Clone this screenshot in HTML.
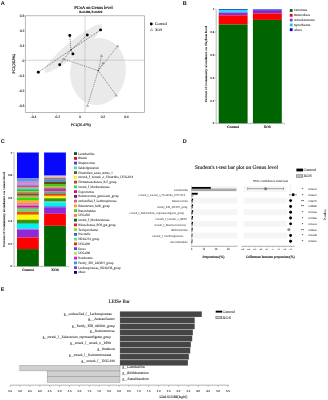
<!DOCTYPE html>
<html><head><meta charset="utf-8"><style>
html,body{margin:0;padding:0;background:#fff;width:328px;height:400px;overflow:hidden}
svg{display:block;will-change:transform;-webkit-font-smoothing:antialiased}

</style></head><body>
<svg width="328" height="400" viewBox="0 0 328 400" text-rendering="geometricPrecision">
<rect width="328" height="400" fill="#fff"/>
<text x="0.80" y="4.90" font-size="5.5" text-anchor="start" fill="#111" font-family="Liberation Sans" font-weight="bold" >A</text>
<text x="182.70" y="4.80" font-size="5.5" text-anchor="start" fill="#111" font-family="Liberation Sans" font-weight="bold" >B</text>
<text x="0.80" y="142.90" font-size="5.5" text-anchor="start" fill="#111" font-family="Liberation Sans" font-weight="bold" >C</text>
<text x="182.80" y="142.70" font-size="5.5" text-anchor="start" fill="#111" font-family="Liberation Sans" font-weight="bold" >D</text>
<text x="0.80" y="290.80" font-size="5.5" text-anchor="start" fill="#111" font-family="Liberation Sans" font-weight="bold" >E</text>
<text x="93.50" y="8.60" font-size="4.5" text-anchor="middle" fill="#111" font-family="Liberation Serif" stroke="#111" stroke-width="0.15" textLength="38.50" lengthAdjust="spacingAndGlyphs" >PCoA on Genus level</text>
<text x="90.70" y="12.80" font-size="3.2" text-anchor="middle" fill="#111" font-family="Liberation Serif" stroke="#111" stroke-width="0.12" font-weight="bold" textLength="23.00" lengthAdjust="spacingAndGlyphs" >R=0.288, P=0.029</text>
<ellipse cx="98.0" cy="71.6" rx="27.8" ry="33.6" transform="rotate(8 98.0 71.6)" fill="#eaeaea"/>
<ellipse cx="73.3" cy="48.4" rx="37" ry="7.0" transform="rotate(-39.5 73.3 48.4)" fill="#eaeaea"/>
<rect x="25.3" y="15.8" width="119.10" height="96.80" fill="none" stroke="#9a9a9a" stroke-width="0.7"/>
<line x1="85.00" y1="15.80" x2="85.00" y2="112.60" stroke="#aaa" stroke-width="0.5" />
<line x1="25.30" y1="60.20" x2="144.40" y2="60.20" stroke="#aaa" stroke-width="0.5" />
<line x1="24.30" y1="15.80" x2="25.30" y2="15.80" stroke="#888" stroke-width="0.4" />
<text x="24.30" y="17.05" font-size="3.6" text-anchor="end" fill="#222" font-family="Liberation Serif" stroke="#222" stroke-width="0.14" >0.3</text>
<line x1="24.30" y1="30.77" x2="25.30" y2="30.77" stroke="#888" stroke-width="0.4" />
<text x="24.30" y="32.02" font-size="3.6" text-anchor="end" fill="#222" font-family="Liberation Serif" stroke="#222" stroke-width="0.14" >0.2</text>
<line x1="24.30" y1="45.74" x2="25.30" y2="45.74" stroke="#888" stroke-width="0.4" />
<text x="24.30" y="46.99" font-size="3.6" text-anchor="end" fill="#222" font-family="Liberation Serif" stroke="#222" stroke-width="0.14" >0.1</text>
<line x1="24.30" y1="60.71" x2="25.30" y2="60.71" stroke="#888" stroke-width="0.4" />
<text x="24.30" y="61.96" font-size="3.6" text-anchor="end" fill="#222" font-family="Liberation Serif" stroke="#222" stroke-width="0.14" >0</text>
<line x1="24.30" y1="75.68" x2="25.30" y2="75.68" stroke="#888" stroke-width="0.4" />
<text x="24.30" y="76.93" font-size="3.6" text-anchor="end" fill="#222" font-family="Liberation Serif" stroke="#222" stroke-width="0.14" >-0.1</text>
<line x1="24.30" y1="90.65" x2="25.30" y2="90.65" stroke="#888" stroke-width="0.4" />
<text x="24.30" y="91.90" font-size="3.6" text-anchor="end" fill="#222" font-family="Liberation Serif" stroke="#222" stroke-width="0.14" >-0.2</text>
<line x1="24.30" y1="105.62" x2="25.30" y2="105.62" stroke="#888" stroke-width="0.4" />
<text x="24.30" y="106.87" font-size="3.6" text-anchor="end" fill="#222" font-family="Liberation Serif" stroke="#222" stroke-width="0.14" >-0.3</text>
<line x1="32.50" y1="112.60" x2="32.50" y2="113.60" stroke="#888" stroke-width="0.4" />
<text x="33.40" y="118.30" font-size="3.6" text-anchor="middle" fill="#222" font-family="Liberation Serif" stroke="#222" stroke-width="0.14" >-0.4</text>
<line x1="56.30" y1="112.60" x2="56.30" y2="113.60" stroke="#888" stroke-width="0.4" />
<text x="57.20" y="118.30" font-size="3.6" text-anchor="middle" fill="#222" font-family="Liberation Serif" stroke="#222" stroke-width="0.14" >-0.2</text>
<line x1="79.90" y1="112.60" x2="79.90" y2="113.60" stroke="#888" stroke-width="0.4" />
<text x="79.90" y="118.30" font-size="3.6" text-anchor="middle" fill="#222" font-family="Liberation Serif" stroke="#222" stroke-width="0.14" >0</text>
<line x1="103.20" y1="112.60" x2="103.20" y2="113.60" stroke="#888" stroke-width="0.4" />
<text x="102.90" y="118.30" font-size="3.6" text-anchor="middle" fill="#222" font-family="Liberation Serif" stroke="#222" stroke-width="0.14" >0.2</text>
<line x1="126.60" y1="112.60" x2="126.60" y2="113.60" stroke="#888" stroke-width="0.4" />
<text x="126.40" y="118.30" font-size="3.6" text-anchor="middle" fill="#222" font-family="Liberation Serif" stroke="#222" stroke-width="0.14" >0.4</text>
<text x="80.90" y="125.60" font-size="3.8" text-anchor="middle" fill="#111" font-family="Liberation Serif" stroke="#111" stroke-width="0.15" textLength="19.80" lengthAdjust="spacingAndGlyphs" >PC1(26.47%)</text>
<text x="15.40" y="63.60" font-size="3.9" text-anchor="middle" fill="#111" font-family="Liberation Serif" stroke="#111" stroke-width="0.15" textLength="19.60" lengthAdjust="spacingAndGlyphs" transform="rotate(-90 15.40 63.60)" >PC2(26.3%)</text>
<line x1="71.00" y1="49.80" x2="69.80" y2="35.50" stroke="#222" stroke-width="0.6" stroke-dasharray="1 1"/>
<line x1="71.00" y1="49.80" x2="72.90" y2="53.90" stroke="#222" stroke-width="0.6" stroke-dasharray="1 1"/>
<line x1="71.00" y1="49.80" x2="59.70" y2="64.70" stroke="#222" stroke-width="0.6" stroke-dasharray="1 1"/>
<line x1="71.00" y1="49.80" x2="38.30" y2="72.20" stroke="#222" stroke-width="0.6" stroke-dasharray="1 1"/>
<line x1="71.00" y1="49.80" x2="87.30" y2="35.00" stroke="#222" stroke-width="0.6" stroke-dasharray="1 1"/>
<line x1="71.00" y1="49.80" x2="100.60" y2="29.90" stroke="#222" stroke-width="0.6" stroke-dasharray="1 1"/>
<line x1="98.30" y1="70.60" x2="117.60" y2="46.10" stroke="#444" stroke-width="0.6" stroke-dasharray="1 1"/>
<line x1="98.30" y1="70.60" x2="101.50" y2="55.70" stroke="#444" stroke-width="0.6" stroke-dasharray="1 1"/>
<line x1="98.30" y1="70.60" x2="103.10" y2="63.10" stroke="#444" stroke-width="0.6" stroke-dasharray="1 1"/>
<line x1="98.30" y1="70.60" x2="116.20" y2="95.20" stroke="#444" stroke-width="0.6" stroke-dasharray="1 1"/>
<line x1="98.30" y1="70.60" x2="87.50" y2="105.50" stroke="#444" stroke-width="0.6" stroke-dasharray="1 1"/>
<line x1="98.30" y1="70.60" x2="63.40" y2="59.00" stroke="#444" stroke-width="0.6" stroke-dasharray="1 1"/>
<circle cx="69.8" cy="35.5" r="1.45" fill="#000"/>
<circle cx="72.9" cy="53.9" r="1.45" fill="#000"/>
<circle cx="59.7" cy="64.7" r="1.45" fill="#000"/>
<circle cx="38.3" cy="72.2" r="1.45" fill="#000"/>
<circle cx="87.3" cy="35.0" r="1.45" fill="#000"/>
<circle cx="100.6" cy="29.9" r="1.45" fill="#000"/>
<polygon points="117.60,44.93 116.30,47.04 118.90,47.04" fill="#bbb" stroke="#888" stroke-width="0.4"/>
<polygon points="101.50,54.53 100.20,56.64 102.80,56.64" fill="#bbb" stroke="#888" stroke-width="0.4"/>
<polygon points="103.10,61.93 101.80,64.04 104.40,64.04" fill="#999" stroke="#888" stroke-width="0.4"/>
<polygon points="116.20,94.03 114.90,96.14 117.50,96.14" fill="#bbb" stroke="#888" stroke-width="0.4"/>
<polygon points="87.50,104.33 86.20,106.44 88.80,106.44" fill="#bbb" stroke="#888" stroke-width="0.4"/>
<polygon points="63.40,57.83 62.10,59.94 64.70,59.94" fill="#bbb" stroke="#888" stroke-width="0.4"/>
<circle cx="71.0" cy="49.8" r="0.6" fill="#444"/>
<circle cx="98.3" cy="70.6" r="0.7" fill="#444"/>
<circle cx="151.3" cy="24.0" r="1.45" fill="#000"/>
<text x="155.00" y="25.30" font-size="3.9" text-anchor="start" fill="#111" font-family="Liberation Serif" stroke="#111" stroke-width="0.06" textLength="12.00" lengthAdjust="spacingAndGlyphs" >Control</text>
<polygon points="151.50,28.34 150.10,30.61 152.90,30.61" fill="none" stroke="#555" stroke-width="0.4"/>
<text x="155.00" y="30.90" font-size="3.9" text-anchor="start" fill="#111" font-family="Liberation Serif" stroke="#111" stroke-width="0.06" textLength="7.20" lengthAdjust="spacingAndGlyphs" >XOS</text>
<line x1="216.20" y1="9.20" x2="216.20" y2="123.30" stroke="#777" stroke-width="0.5" />
<line x1="216.20" y1="123.30" x2="284.50" y2="123.30" stroke="#777" stroke-width="0.5" />
<line x1="214.80" y1="9.20" x2="216.20" y2="9.20" stroke="#777" stroke-width="0.4" />
<text x="214.20" y="10.25" font-size="3.0" text-anchor="end" fill="#222" font-family="Liberation Serif" stroke="#222" stroke-width="0.12" >1</text>
<line x1="214.80" y1="32.02" x2="216.20" y2="32.02" stroke="#777" stroke-width="0.4" />
<text x="214.20" y="33.07" font-size="3.0" text-anchor="end" fill="#222" font-family="Liberation Serif" stroke="#222" stroke-width="0.12" >0.8</text>
<line x1="214.80" y1="54.84" x2="216.20" y2="54.84" stroke="#777" stroke-width="0.4" />
<text x="214.20" y="55.89" font-size="3.0" text-anchor="end" fill="#222" font-family="Liberation Serif" stroke="#222" stroke-width="0.12" >0.6</text>
<line x1="214.80" y1="77.66" x2="216.20" y2="77.66" stroke="#777" stroke-width="0.4" />
<text x="214.20" y="78.71" font-size="3.0" text-anchor="end" fill="#222" font-family="Liberation Serif" stroke="#222" stroke-width="0.12" >0.4</text>
<line x1="214.80" y1="100.48" x2="216.20" y2="100.48" stroke="#777" stroke-width="0.4" />
<text x="214.20" y="101.53" font-size="3.0" text-anchor="end" fill="#222" font-family="Liberation Serif" stroke="#222" stroke-width="0.12" >0.2</text>
<line x1="214.80" y1="123.30" x2="216.20" y2="123.30" stroke="#777" stroke-width="0.4" />
<text x="214.20" y="124.35" font-size="3.0" text-anchor="end" fill="#222" font-family="Liberation Serif" stroke="#222" stroke-width="0.12" >0</text>
<line x1="284.50" y1="123.30" x2="284.50" y2="124.50" stroke="#777" stroke-width="0.4" />
<line x1="250.20" y1="123.30" x2="250.20" y2="124.50" stroke="#777" stroke-width="0.4" />
<rect x="218.70" y="9.10" width="28.90" height="0.90" fill="#1048c8" />
<rect x="218.70" y="10.00" width="28.90" height="2.50" fill="#30d8fa" />
<rect x="218.70" y="12.50" width="28.90" height="2.80" fill="#8a2cd8" />
<rect x="218.70" y="15.30" width="28.90" height="9.20" fill="#ff0000" />
<rect x="218.70" y="24.50" width="28.90" height="98.80" fill="#006400" />
<rect x="252.90" y="9.00" width="28.90" height="0.30" fill="#60d8f0" />
<rect x="252.90" y="9.30" width="28.90" height="0.80" fill="#3858c8" />
<rect x="252.90" y="10.10" width="28.90" height="3.30" fill="#7a2ad8" />
<rect x="252.90" y="13.40" width="28.90" height="6.50" fill="#ff0000" />
<rect x="252.90" y="19.90" width="28.90" height="103.40" fill="#006400" />
<text x="233.10" y="128.00" font-size="3.3" text-anchor="middle" fill="#111" font-family="Liberation Serif" stroke="#111" stroke-width="0.15" textLength="12.00" lengthAdjust="spacingAndGlyphs" >Control</text>
<text x="267.30" y="128.00" font-size="3.3" text-anchor="middle" fill="#111" font-family="Liberation Serif" stroke="#111" stroke-width="0.15" textLength="7.00" lengthAdjust="spacingAndGlyphs" >XOS</text>
<text x="207.30" y="64.00" font-size="3.0" text-anchor="middle" fill="#222" font-family="Liberation Serif" stroke="#222" stroke-width="0.1" textLength="76.50" lengthAdjust="spacingAndGlyphs" transform="rotate(-90 207.30 64.00)" >Percent of community abundance on Phylum level</text>
<rect x="289.80" y="9.10" width="2.80" height="2.80" fill="#006400" />
<text x="294.00" y="11.40" font-size="3.1" text-anchor="start" fill="#333" font-family="Liberation Serif" stroke="#333" stroke-width="0.08" textLength="13.20" lengthAdjust="spacingAndGlyphs" >Firmicutes</text>
<rect x="289.80" y="13.90" width="2.80" height="2.80" fill="#e00020" />
<text x="294.00" y="16.20" font-size="3.1" text-anchor="start" fill="#333" font-family="Liberation Serif" stroke="#333" stroke-width="0.08" textLength="15.80" lengthAdjust="spacingAndGlyphs" >Bacteroidetes</text>
<rect x="289.80" y="18.70" width="2.80" height="2.80" fill="#9932cc" />
<text x="294.00" y="21.00" font-size="3.1" text-anchor="start" fill="#333" font-family="Liberation Serif" stroke="#333" stroke-width="0.08" textLength="20.50" lengthAdjust="spacingAndGlyphs" >Actinobacteriota</text>
<rect x="289.80" y="23.50" width="2.80" height="2.80" fill="#00ced1" />
<text x="294.00" y="25.80" font-size="3.1" text-anchor="start" fill="#333" font-family="Liberation Serif" stroke="#333" stroke-width="0.08" textLength="16.40" lengthAdjust="spacingAndGlyphs" >Spirochaetota</text>
<rect x="289.80" y="28.30" width="2.80" height="2.80" fill="#0000cd" />
<text x="294.00" y="30.60" font-size="3.1" text-anchor="start" fill="#333" font-family="Liberation Serif" stroke="#333" stroke-width="0.08" textLength="7.70" lengthAdjust="spacingAndGlyphs" >others</text>
<line x1="14.00" y1="152.50" x2="14.00" y2="266.30" stroke="#777" stroke-width="0.5" />
<line x1="14.00" y1="266.30" x2="68.50" y2="266.30" stroke="#777" stroke-width="0.5" />
<line x1="12.60" y1="152.50" x2="14.00" y2="152.50" stroke="#777" stroke-width="0.4" />
<text x="12.00" y="153.55" font-size="3.0" text-anchor="end" fill="#222" font-family="Liberation Serif" stroke="#222" stroke-width="0.12" >1</text>
<line x1="12.60" y1="175.26" x2="14.00" y2="175.26" stroke="#777" stroke-width="0.4" />
<text x="12.00" y="176.31" font-size="3.0" text-anchor="end" fill="#222" font-family="Liberation Serif" stroke="#222" stroke-width="0.12" >0.8</text>
<line x1="12.60" y1="198.02" x2="14.00" y2="198.02" stroke="#777" stroke-width="0.4" />
<text x="12.00" y="199.07" font-size="3.0" text-anchor="end" fill="#222" font-family="Liberation Serif" stroke="#222" stroke-width="0.12" >0.6</text>
<line x1="12.60" y1="220.78" x2="14.00" y2="220.78" stroke="#777" stroke-width="0.4" />
<text x="12.00" y="221.83" font-size="3.0" text-anchor="end" fill="#222" font-family="Liberation Serif" stroke="#222" stroke-width="0.12" >0.4</text>
<line x1="12.60" y1="243.54" x2="14.00" y2="243.54" stroke="#777" stroke-width="0.4" />
<text x="12.00" y="244.59" font-size="3.0" text-anchor="end" fill="#222" font-family="Liberation Serif" stroke="#222" stroke-width="0.12" >0.2</text>
<line x1="12.60" y1="266.30" x2="14.00" y2="266.30" stroke="#777" stroke-width="0.4" />
<text x="12.00" y="267.35" font-size="3.0" text-anchor="end" fill="#222" font-family="Liberation Serif" stroke="#222" stroke-width="0.12" >0</text>
<line x1="68.50" y1="266.30" x2="68.50" y2="267.50" stroke="#777" stroke-width="0.4" />
<line x1="41.40" y1="266.30" x2="41.40" y2="267.50" stroke="#777" stroke-width="0.4" />
<rect x="17.00" y="152.50" width="21.80" height="25.70" fill="#0808fc" />
<rect x="17.00" y="178.20" width="21.80" height="1.80" fill="#7080f0" />
<rect x="17.00" y="180.00" width="21.80" height="1.75" fill="#5c9ee0" />
<rect x="17.00" y="181.75" width="21.80" height="1.00" fill="#a070c0" />
<rect x="17.00" y="182.75" width="21.80" height="1.50" fill="#f080e0" />
<rect x="17.00" y="184.25" width="21.80" height="1.75" fill="#a080d0" />
<rect x="17.00" y="186.00" width="21.80" height="1.25" fill="#b06070" />
<rect x="17.00" y="187.25" width="21.80" height="0.75" fill="#d08080" />
<rect x="17.00" y="188.00" width="21.80" height="1.25" fill="#70d0c0" />
<rect x="17.00" y="189.25" width="21.80" height="1.75" fill="#30b060" />
<rect x="17.00" y="191.00" width="21.80" height="1.25" fill="#80e040" />
<rect x="17.00" y="192.25" width="21.80" height="1.50" fill="#c06020" />
<rect x="17.00" y="193.75" width="21.80" height="2.00" fill="#506030" />
<rect x="17.00" y="195.75" width="21.80" height="1.75" fill="#f09050" />
<rect x="17.00" y="197.50" width="21.80" height="2.50" fill="#20e010" />
<rect x="17.00" y="200.00" width="21.80" height="2.50" fill="#f0b030" />
<rect x="17.00" y="202.50" width="21.80" height="2.00" fill="#f08060" />
<rect x="17.00" y="204.50" width="21.80" height="1.25" fill="#e07080" />
<rect x="17.00" y="205.75" width="21.80" height="2.00" fill="#d010a0" />
<rect x="17.00" y="207.75" width="21.80" height="1.25" fill="#70c070" />
<rect x="17.00" y="209.00" width="21.80" height="1.25" fill="#80d090" />
<rect x="17.00" y="210.25" width="21.80" height="1.25" fill="#60c040" />
<rect x="17.00" y="211.50" width="21.80" height="0.50" fill="#80a040" />
<rect x="17.00" y="212.00" width="21.80" height="2.25" fill="#f05010" />
<rect x="17.00" y="214.25" width="21.80" height="0.75" fill="#f08000" />
<rect x="17.00" y="215.00" width="21.80" height="4.75" fill="#fafa00" />
<rect x="17.00" y="219.75" width="21.80" height="3.25" fill="#409000" />
<rect x="17.00" y="223.00" width="21.80" height="1.00" fill="#30c0a0" />
<rect x="17.00" y="224.00" width="21.80" height="4.50" fill="#00f2ec" />
<rect x="17.00" y="228.50" width="21.80" height="1.00" fill="#40a0f0" />
<rect x="17.00" y="229.50" width="21.80" height="8.00" fill="#9028d8" />
<rect x="17.00" y="237.50" width="21.80" height="11.60" fill="#ff0000" />
<rect x="17.00" y="249.10" width="21.80" height="17.20" fill="#006400" />
<rect x="44.10" y="152.50" width="21.80" height="22.50" fill="#0808fc" />
<rect x="44.10" y="175.00" width="21.80" height="1.25" fill="#8080f0" />
<rect x="44.10" y="176.25" width="21.80" height="1.50" fill="#e0c0a0" />
<rect x="44.10" y="177.75" width="21.80" height="1.25" fill="#b07070" />
<rect x="44.10" y="179.00" width="21.80" height="1.00" fill="#8090c0" />
<rect x="44.10" y="180.00" width="21.80" height="2.00" fill="#5090d0" />
<rect x="44.10" y="182.00" width="21.80" height="2.00" fill="#605000" />
<rect x="44.10" y="184.00" width="21.80" height="2.00" fill="#50c020" />
<rect x="44.10" y="186.00" width="21.80" height="1.50" fill="#a0d020" />
<rect x="44.10" y="187.50" width="21.80" height="1.50" fill="#a07080" />
<rect x="44.10" y="189.00" width="21.80" height="2.50" fill="#c030a0" />
<rect x="44.10" y="191.50" width="21.80" height="2.50" fill="#70a080" />
<rect x="44.10" y="194.00" width="21.80" height="1.75" fill="#e04010" />
<rect x="44.10" y="195.75" width="21.80" height="0.75" fill="#f08000" />
<rect x="44.10" y="196.50" width="21.80" height="1.75" fill="#fafa00" />
<rect x="44.10" y="198.25" width="21.80" height="3.25" fill="#409000" />
<rect x="44.10" y="201.50" width="21.80" height="1.00" fill="#20d0c0" />
<rect x="44.10" y="202.50" width="21.80" height="3.50" fill="#00f2ec" />
<rect x="44.10" y="206.00" width="21.80" height="1.25" fill="#40a0f0" />
<rect x="44.10" y="207.25" width="21.80" height="6.50" fill="#9028d8" />
<rect x="44.10" y="213.75" width="21.80" height="12.05" fill="#ff0000" />
<rect x="44.10" y="225.80" width="21.80" height="40.50" fill="#006400" />
<text x="28.00" y="271.20" font-size="3.3" text-anchor="middle" fill="#111" font-family="Liberation Serif" stroke="#111" stroke-width="0.15" textLength="11.60" lengthAdjust="spacingAndGlyphs" >Control</text>
<text x="55.00" y="271.20" font-size="3.3" text-anchor="middle" fill="#111" font-family="Liberation Serif" stroke="#111" stroke-width="0.15" textLength="7.50" lengthAdjust="spacingAndGlyphs" >XOS</text>
<text x="5.40" y="209.50" font-size="3.0" text-anchor="middle" fill="#222" font-family="Liberation Serif" stroke="#222" stroke-width="0.1" textLength="75.00" lengthAdjust="spacingAndGlyphs" transform="rotate(-90 5.40 209.50)" >Percent of community abundance on Genus level</text>
<rect x="74.00" y="152.20" width="3.00" height="2.80" fill="#0a5a2a" />
<text x="78.20" y="154.65" font-size="3.25" text-anchor="start" fill="#333" font-family="Liberation Serif" stroke="#333" stroke-width="0.07" textLength="16.16" lengthAdjust="spacingAndGlyphs" >Lactobacillus</text>
<rect x="74.00" y="156.95" width="3.00" height="2.80" fill="#cc1133" />
<text x="78.20" y="159.40" font-size="3.25" text-anchor="start" fill="#333" font-family="Liberation Serif" stroke="#333" stroke-width="0.07" textLength="8.66" lengthAdjust="spacingAndGlyphs" >Blautia</text>
<rect x="74.00" y="161.70" width="3.00" height="2.80" fill="#7030d0" />
<text x="78.20" y="164.15" font-size="3.25" text-anchor="start" fill="#333" font-family="Liberation Serif" stroke="#333" stroke-width="0.07" textLength="16.83" lengthAdjust="spacingAndGlyphs" >Streptococcus</text>
<rect x="74.00" y="166.46" width="3.00" height="2.80" fill="#40e0d0" />
<text x="78.20" y="168.91" font-size="3.25" text-anchor="start" fill="#333" font-family="Liberation Serif" stroke="#333" stroke-width="0.07" textLength="20.83" lengthAdjust="spacingAndGlyphs" >Subdoligranulum</text>
<rect x="74.00" y="171.21" width="3.00" height="2.80" fill="#6b5a10" />
<text x="78.20" y="173.66" font-size="3.25" text-anchor="start" fill="#333" font-family="Liberation Serif" stroke="#333" stroke-width="0.07" textLength="34.50" lengthAdjust="spacingAndGlyphs" >Clostridium_sensu_stricto_1</text>
<rect x="74.00" y="175.96" width="3.00" height="2.80" fill="#f0f040" />
<text x="78.20" y="178.41" font-size="3.25" text-anchor="start" fill="#333" font-family="Liberation Serif" stroke="#333" stroke-width="0.07" textLength="55.00" lengthAdjust="spacingAndGlyphs" >norank_f_norank_o_Clostridia_UCG-014</text>
<rect x="74.00" y="180.71" width="3.00" height="2.80" fill="#d04020" />
<text x="78.20" y="183.16" font-size="3.25" text-anchor="start" fill="#333" font-family="Liberation Serif" stroke="#333" stroke-width="0.07" textLength="38.32" lengthAdjust="spacingAndGlyphs" >Christensenellaceae_R-7_group</text>
<rect x="74.00" y="185.46" width="3.00" height="2.80" fill="#20e070" />
<text x="78.20" y="187.91" font-size="3.25" text-anchor="start" fill="#333" font-family="Liberation Serif" stroke="#333" stroke-width="0.07" textLength="31.48" lengthAdjust="spacingAndGlyphs" >norank_f_Muribaculaceae</text>
<rect x="74.00" y="190.22" width="3.00" height="2.80" fill="#d01060" />
<text x="78.20" y="192.67" font-size="3.25" text-anchor="start" fill="#333" font-family="Liberation Serif" stroke="#333" stroke-width="0.07" textLength="15.66" lengthAdjust="spacingAndGlyphs" >Coprococcus</text>
<rect x="74.00" y="194.97" width="3.00" height="2.80" fill="#702060" />
<text x="78.20" y="197.42" font-size="3.25" text-anchor="start" fill="#333" font-family="Liberation Serif" stroke="#333" stroke-width="0.07" textLength="40.49" lengthAdjust="spacingAndGlyphs" >Ruminococcus_gauvreauii_group</text>
<rect x="74.00" y="199.72" width="3.00" height="2.80" fill="#e06080" />
<text x="78.20" y="202.17" font-size="3.25" text-anchor="start" fill="#333" font-family="Liberation Serif" stroke="#333" stroke-width="0.07" textLength="38.48" lengthAdjust="spacingAndGlyphs" >unclassified_f_Lachnospiraceae</text>
<rect x="74.00" y="204.47" width="3.00" height="2.80" fill="#f0a040" />
<text x="78.20" y="206.92" font-size="3.25" text-anchor="start" fill="#333" font-family="Liberation Serif" stroke="#333" stroke-width="0.07" textLength="31.49" lengthAdjust="spacingAndGlyphs" >Eubacterium_hallii_group</text>
<rect x="74.00" y="209.22" width="3.00" height="2.80" fill="#40d030" />
<text x="78.20" y="211.67" font-size="3.25" text-anchor="start" fill="#333" font-family="Liberation Serif" stroke="#333" stroke-width="0.07" textLength="17.49" lengthAdjust="spacingAndGlyphs" >Enterorhabdus</text>
<rect x="74.00" y="213.98" width="3.00" height="2.80" fill="#f08040" />
<text x="78.20" y="216.43" font-size="3.25" text-anchor="start" fill="#333" font-family="Liberation Serif" stroke="#333" stroke-width="0.07" textLength="11.83" lengthAdjust="spacingAndGlyphs" >UCG-002</text>
<rect x="74.00" y="218.73" width="3.00" height="2.80" fill="#106020" />
<text x="78.20" y="221.18" font-size="3.25" text-anchor="start" fill="#333" font-family="Liberation Serif" stroke="#333" stroke-width="0.07" textLength="31.48" lengthAdjust="spacingAndGlyphs" >norank_f_Muribaculaceae</text>
<rect x="74.00" y="223.48" width="3.00" height="2.80" fill="#e02020" />
<text x="78.20" y="225.93" font-size="3.25" text-anchor="start" fill="#333" font-family="Liberation Serif" stroke="#333" stroke-width="0.07" textLength="37.66" lengthAdjust="spacingAndGlyphs" >Rikenellaceae_RC9_gut_group</text>
<rect x="74.00" y="228.23" width="3.00" height="2.80" fill="#80e040" />
<text x="78.20" y="230.68" font-size="3.25" text-anchor="start" fill="#333" font-family="Liberation Serif" stroke="#333" stroke-width="0.07" textLength="19.78" lengthAdjust="spacingAndGlyphs" >Terrisporobacter</text>
<rect x="74.00" y="232.98" width="3.00" height="2.80" fill="#4060d0" />
<text x="78.20" y="235.43" font-size="3.25" text-anchor="start" fill="#333" font-family="Liberation Serif" stroke="#333" stroke-width="0.07" textLength="12.16" lengthAdjust="spacingAndGlyphs" >Prevotella</text>
<rect x="74.00" y="237.74" width="3.00" height="2.80" fill="#60e0a0" />
<text x="78.20" y="240.19" font-size="3.25" text-anchor="start" fill="#333" font-family="Liberation Serif" stroke="#333" stroke-width="0.07" textLength="21.00" lengthAdjust="spacingAndGlyphs" >NK4A214_group</text>
<rect x="74.00" y="242.49" width="3.00" height="2.80" fill="#e03010" />
<text x="78.20" y="244.94" font-size="3.25" text-anchor="start" fill="#333" font-family="Liberation Serif" stroke="#333" stroke-width="0.07" textLength="11.83" lengthAdjust="spacingAndGlyphs" >UCG-005</text>
<rect x="74.00" y="247.24" width="3.00" height="2.80" fill="#5050c0" />
<text x="78.20" y="249.69" font-size="3.25" text-anchor="start" fill="#333" font-family="Liberation Serif" stroke="#333" stroke-width="0.07" textLength="7.33" lengthAdjust="spacingAndGlyphs" >Dorea</text>
<rect x="74.00" y="251.99" width="3.00" height="2.80" fill="#c0e070" />
<text x="78.20" y="254.44" font-size="3.25" text-anchor="start" fill="#333" font-family="Liberation Serif" stroke="#333" stroke-width="0.07" textLength="11.83" lengthAdjust="spacingAndGlyphs" >UCG-008</text>
<rect x="74.00" y="256.74" width="3.00" height="2.80" fill="#d020d0" />
<text x="78.20" y="259.19" font-size="3.25" text-anchor="start" fill="#333" font-family="Liberation Serif" stroke="#333" stroke-width="0.07" textLength="14.50" lengthAdjust="spacingAndGlyphs" >Romboutsia</text>
<rect x="74.00" y="261.50" width="3.00" height="2.80" fill="#20a0e0" />
<text x="78.20" y="263.95" font-size="3.25" text-anchor="start" fill="#333" font-family="Liberation Serif" stroke="#333" stroke-width="0.07" textLength="35.38" lengthAdjust="spacingAndGlyphs" >Family_XIII_AD3011_group</text>
<rect x="74.00" y="266.25" width="3.00" height="2.80" fill="#8040d0" />
<text x="78.20" y="268.70" font-size="3.25" text-anchor="start" fill="#333" font-family="Liberation Serif" stroke="#333" stroke-width="0.07" textLength="42.65" lengthAdjust="spacingAndGlyphs" >Lachnospiraceae_NK4A136_group</text>
<rect x="74.00" y="271.00" width="3.00" height="2.80" fill="#100080" />
<text x="78.20" y="273.45" font-size="3.25" text-anchor="start" fill="#333" font-family="Liberation Serif" stroke="#333" stroke-width="0.07" textLength="7.33" lengthAdjust="spacingAndGlyphs" >others</text>
<text x="236.60" y="168.60" font-size="5.4" text-anchor="middle" fill="#111" font-family="Liberation Serif" stroke="#111" stroke-width="0.12" textLength="83.00" lengthAdjust="spacingAndGlyphs" >Student's t-test bar plot on Genus level</text>
<rect x="296.40" y="168.60" width="6.60" height="2.80" fill="#000" />
<text x="303.40" y="171.30" font-size="3.6" text-anchor="start" fill="#222" font-family="Liberation Serif" stroke="#222" stroke-width="0.06" textLength="12.60" lengthAdjust="spacingAndGlyphs" >Control</text>
<rect x="296.60" y="174.80" width="6.20" height="2.60" fill="#bbb" stroke="#444" stroke-width="0.4" />
<text x="303.40" y="177.30" font-size="3.6" text-anchor="start" fill="#222" font-family="Liberation Serif" stroke="#222" stroke-width="0.06" textLength="8.40" lengthAdjust="spacingAndGlyphs" >XOS</text>
<text x="270.50" y="181.90" font-size="3.0" text-anchor="middle" fill="#333" font-family="Liberation Serif" stroke="#333" stroke-width="0.06" textLength="35.00" lengthAdjust="spacingAndGlyphs" >95% confidence intervals</text>
<rect x="191.80" y="186.10" width="45.40" height="5.80" fill="#f5f5f5" />
<rect x="243.60" y="186.10" width="43.60" height="5.80" fill="#f5f5f5" />
<rect x="191.80" y="197.72" width="45.40" height="5.80" fill="#f5f5f5" />
<rect x="243.60" y="197.72" width="43.60" height="5.80" fill="#f5f5f5" />
<rect x="191.80" y="209.34" width="45.40" height="5.80" fill="#f5f5f5" />
<rect x="243.60" y="209.34" width="43.60" height="5.80" fill="#f5f5f5" />
<rect x="191.80" y="220.96" width="45.40" height="5.80" fill="#f5f5f5" />
<rect x="243.60" y="220.96" width="43.60" height="5.80" fill="#f5f5f5" />
<rect x="191.80" y="232.58" width="45.40" height="5.80" fill="#f5f5f5" />
<rect x="243.60" y="232.58" width="43.60" height="5.80" fill="#f5f5f5" />
<line x1="191.60" y1="185.50" x2="191.60" y2="246.30" stroke="#aaa" stroke-width="0.4" />
<line x1="191.60" y1="246.30" x2="237.50" y2="246.30" stroke="#666" stroke-width="0.5" />
<line x1="241.70" y1="246.30" x2="294.70" y2="246.30" stroke="#666" stroke-width="0.5" />
<line x1="290.30" y1="184.50" x2="290.30" y2="246.30" stroke="#aaa" stroke-width="0.4" stroke-dasharray="0.8 0.8"/>
<line x1="191.60" y1="246.30" x2="191.60" y2="247.30" stroke="#666" stroke-width="0.4" />
<text x="191.60" y="250.40" font-size="2.5" text-anchor="middle" fill="#333" font-family="Liberation Serif" stroke="#333" stroke-width="0.08" >0</text>
<line x1="203.80" y1="246.30" x2="203.80" y2="247.30" stroke="#666" stroke-width="0.4" />
<text x="203.80" y="250.40" font-size="2.5" text-anchor="middle" fill="#333" font-family="Liberation Serif" stroke="#333" stroke-width="0.08" >10</text>
<line x1="216.00" y1="246.30" x2="216.00" y2="247.30" stroke="#666" stroke-width="0.4" />
<text x="216.00" y="250.40" font-size="2.5" text-anchor="middle" fill="#333" font-family="Liberation Serif" stroke="#333" stroke-width="0.08" >20</text>
<line x1="228.20" y1="246.30" x2="228.20" y2="247.30" stroke="#666" stroke-width="0.4" />
<text x="228.20" y="250.40" font-size="2.5" text-anchor="middle" fill="#333" font-family="Liberation Serif" stroke="#333" stroke-width="0.08" >30</text>
<line x1="194.04" y1="246.30" x2="194.04" y2="245.70" stroke="#888" stroke-width="0.3" />
<line x1="196.48" y1="246.30" x2="196.48" y2="245.70" stroke="#888" stroke-width="0.3" />
<line x1="198.92" y1="246.30" x2="198.92" y2="245.70" stroke="#888" stroke-width="0.3" />
<line x1="201.36" y1="246.30" x2="201.36" y2="245.70" stroke="#888" stroke-width="0.3" />
<line x1="206.24" y1="246.30" x2="206.24" y2="245.70" stroke="#888" stroke-width="0.3" />
<line x1="208.68" y1="246.30" x2="208.68" y2="245.70" stroke="#888" stroke-width="0.3" />
<line x1="211.12" y1="246.30" x2="211.12" y2="245.70" stroke="#888" stroke-width="0.3" />
<line x1="213.56" y1="246.30" x2="213.56" y2="245.70" stroke="#888" stroke-width="0.3" />
<line x1="218.44" y1="246.30" x2="218.44" y2="245.70" stroke="#888" stroke-width="0.3" />
<line x1="220.88" y1="246.30" x2="220.88" y2="245.70" stroke="#888" stroke-width="0.3" />
<line x1="223.32" y1="246.30" x2="223.32" y2="245.70" stroke="#888" stroke-width="0.3" />
<line x1="225.76" y1="246.30" x2="225.76" y2="245.70" stroke="#888" stroke-width="0.3" />
<line x1="230.64" y1="246.30" x2="230.64" y2="245.70" stroke="#888" stroke-width="0.3" />
<line x1="233.08" y1="246.30" x2="233.08" y2="245.70" stroke="#888" stroke-width="0.3" />
<line x1="235.52" y1="246.30" x2="235.52" y2="245.70" stroke="#888" stroke-width="0.3" />
<line x1="237.96" y1="246.30" x2="237.96" y2="245.70" stroke="#888" stroke-width="0.3" />
<line x1="242.60" y1="246.30" x2="242.60" y2="247.30" stroke="#666" stroke-width="0.35" />
<text x="242.60" y="250.20" font-size="1.9" text-anchor="middle" fill="#333" font-family="Liberation Serif" stroke="#333" stroke-width="0.08" >-0.5</text>
<line x1="245.62" y1="246.30" x2="245.62" y2="245.70" stroke="#888" stroke-width="0.3" />
<line x1="248.65" y1="246.30" x2="248.65" y2="247.30" stroke="#666" stroke-width="0.35" />
<text x="248.65" y="250.20" font-size="1.9" text-anchor="middle" fill="#333" font-family="Liberation Serif" stroke="#333" stroke-width="0.08" >-0.4</text>
<line x1="251.67" y1="246.30" x2="251.67" y2="245.70" stroke="#888" stroke-width="0.3" />
<line x1="254.70" y1="246.30" x2="254.70" y2="247.30" stroke="#666" stroke-width="0.35" />
<text x="254.70" y="250.20" font-size="1.9" text-anchor="middle" fill="#333" font-family="Liberation Serif" stroke="#333" stroke-width="0.08" >-0.3</text>
<line x1="257.72" y1="246.30" x2="257.72" y2="245.70" stroke="#888" stroke-width="0.3" />
<line x1="260.75" y1="246.30" x2="260.75" y2="247.30" stroke="#666" stroke-width="0.35" />
<text x="260.75" y="250.20" font-size="1.9" text-anchor="middle" fill="#333" font-family="Liberation Serif" stroke="#333" stroke-width="0.08" >-0.2</text>
<line x1="263.77" y1="246.30" x2="263.77" y2="245.70" stroke="#888" stroke-width="0.3" />
<line x1="266.80" y1="246.30" x2="266.80" y2="247.30" stroke="#666" stroke-width="0.35" />
<text x="266.80" y="250.20" font-size="1.9" text-anchor="middle" fill="#333" font-family="Liberation Serif" stroke="#333" stroke-width="0.08" >-0.1</text>
<line x1="269.82" y1="246.30" x2="269.82" y2="245.70" stroke="#888" stroke-width="0.3" />
<line x1="272.85" y1="246.30" x2="272.85" y2="247.30" stroke="#666" stroke-width="0.35" />
<text x="272.85" y="250.20" font-size="1.9" text-anchor="middle" fill="#333" font-family="Liberation Serif" stroke="#333" stroke-width="0.08" >0</text>
<line x1="275.87" y1="246.30" x2="275.87" y2="245.70" stroke="#888" stroke-width="0.3" />
<line x1="278.90" y1="246.30" x2="278.90" y2="247.30" stroke="#666" stroke-width="0.35" />
<text x="278.90" y="250.20" font-size="1.9" text-anchor="middle" fill="#333" font-family="Liberation Serif" stroke="#333" stroke-width="0.08" >0.1</text>
<line x1="281.92" y1="246.30" x2="281.92" y2="245.70" stroke="#888" stroke-width="0.3" />
<line x1="284.95" y1="246.30" x2="284.95" y2="247.30" stroke="#666" stroke-width="0.35" />
<text x="284.95" y="250.20" font-size="1.9" text-anchor="middle" fill="#333" font-family="Liberation Serif" stroke="#333" stroke-width="0.08" >0.2</text>
<line x1="287.97" y1="246.30" x2="287.97" y2="245.70" stroke="#888" stroke-width="0.3" />
<line x1="291.00" y1="246.30" x2="291.00" y2="247.30" stroke="#666" stroke-width="0.35" />
<text x="291.00" y="250.20" font-size="1.9" text-anchor="middle" fill="#333" font-family="Liberation Serif" stroke="#333" stroke-width="0.08" >0.3</text>
<text x="213.40" y="257.70" font-size="3.5" text-anchor="middle" fill="#111" font-family="Liberation Serif" stroke="#111" stroke-width="0.12" textLength="21.90" lengthAdjust="spacingAndGlyphs" >Proportions(%)</text>
<text x="270.50" y="257.90" font-size="3.5" text-anchor="middle" fill="#111" font-family="Liberation Serif" stroke="#111" stroke-width="0.12" textLength="48.50" lengthAdjust="spacingAndGlyphs" >Difference between proportions(%)</text>
<rect x="191.80" y="187.00" width="19.00" height="1.90" fill="#000" />
<rect x="191.80" y="188.90" width="44.30" height="1.90" fill="#b0b0b0" stroke="#666" stroke-width="0.25" />
<text x="173.90" y="190.60" font-size="3.0" text-anchor="start" fill="#333" font-family="Liberation Serif" stroke="#333" stroke-width="0.03" textLength="13.80" lengthAdjust="spacingAndGlyphs" >Lactobacillus</text>
<text x="302.50" y="190.00" font-size="3.0" text-anchor="middle" fill="#333" font-family="Liberation Serif" stroke="#333" stroke-width="0.06" >*</text>
<text x="308.50" y="189.90" font-size="2.4" text-anchor="start" fill="#333" font-family="Liberation Serif" stroke="#333" stroke-width="0.06" textLength="8.20" lengthAdjust="spacingAndGlyphs" >0.04347</text>
<rect x="191.80" y="192.81" width="5.90" height="1.90" fill="#000" />
<rect x="191.80" y="194.71" width="1.40" height="1.90" fill="#b0b0b0" stroke="#666" stroke-width="0.25" />
<text x="138.50" y="196.30" font-size="3.0" text-anchor="start" fill="#333" font-family="Liberation Serif" stroke="#333" stroke-width="0.03" textLength="46.30" lengthAdjust="spacingAndGlyphs" >norank_f_norank_o_Clostridia_UCG-014</text>
<text x="302.50" y="195.81" font-size="3.0" text-anchor="middle" fill="#333" font-family="Liberation Serif" stroke="#333" stroke-width="0.06" >*</text>
<text x="308.50" y="195.71" font-size="2.4" text-anchor="start" fill="#333" font-family="Liberation Serif" stroke="#333" stroke-width="0.06" textLength="8.20" lengthAdjust="spacingAndGlyphs" >0.04837</text>
<rect x="191.80" y="198.62" width="1.30" height="1.90" fill="#000" />
<rect x="191.80" y="200.52" width="1.00" height="1.90" fill="#555" stroke="#666" stroke-width="0.25" />
<text x="172.00" y="202.30" font-size="3.0" text-anchor="start" fill="#333" font-family="Liberation Serif" stroke="#333" stroke-width="0.03" textLength="15.70" lengthAdjust="spacingAndGlyphs" >Ruminococcus</text>
<text x="302.50" y="201.62" font-size="3.0" text-anchor="middle" fill="#333" font-family="Liberation Serif" stroke="#333" stroke-width="0.06" >**</text>
<text x="308.50" y="201.52" font-size="2.4" text-anchor="start" fill="#333" font-family="Liberation Serif" stroke="#333" stroke-width="0.06" textLength="8.20" lengthAdjust="spacingAndGlyphs" >0.008770</text>
<rect x="191.80" y="204.43" width="1.30" height="1.90" fill="#000" />
<rect x="191.80" y="206.33" width="1.00" height="1.90" fill="#555" stroke="#666" stroke-width="0.25" />
<text x="157.40" y="208.20" font-size="3.0" text-anchor="start" fill="#333" font-family="Liberation Serif" stroke="#333" stroke-width="0.03" textLength="29.90" lengthAdjust="spacingAndGlyphs" >Family_XIII_AD3011_group</text>
<text x="302.50" y="207.43" font-size="3.0" text-anchor="middle" fill="#333" font-family="Liberation Serif" stroke="#333" stroke-width="0.06" >**</text>
<text x="308.50" y="207.33" font-size="2.4" text-anchor="start" fill="#333" font-family="Liberation Serif" stroke="#333" stroke-width="0.06" textLength="8.20" lengthAdjust="spacingAndGlyphs" >0.009890</text>
<rect x="191.80" y="210.24" width="1.30" height="1.90" fill="#000" />
<rect x="191.80" y="212.14" width="1.00" height="1.90" fill="#555" stroke="#666" stroke-width="0.25" />
<text x="129.50" y="213.70" font-size="3.0" text-anchor="start" fill="#333" font-family="Liberation Serif" stroke="#333" stroke-width="0.03" textLength="54.40" lengthAdjust="spacingAndGlyphs" >norank_f_Eubacterium_coprostanoligenes_group</text>
<text x="302.50" y="213.24" font-size="3.0" text-anchor="middle" fill="#333" font-family="Liberation Serif" stroke="#333" stroke-width="0.06" >*</text>
<text x="308.50" y="213.14" font-size="2.4" text-anchor="start" fill="#333" font-family="Liberation Serif" stroke="#333" stroke-width="0.06" textLength="8.20" lengthAdjust="spacingAndGlyphs" >0.01684</text>
<rect x="191.80" y="216.05" width="1.20" height="1.90" fill="#000" />
<rect x="191.80" y="217.95" width="0.90" height="1.90" fill="#555" stroke="#666" stroke-width="0.25" />
<text x="155.50" y="219.60" font-size="3.0" text-anchor="start" fill="#333" font-family="Liberation Serif" stroke="#333" stroke-width="0.03" textLength="31.20" lengthAdjust="spacingAndGlyphs" >norank_f_norank_o_RF39</text>
<text x="302.50" y="219.05" font-size="3.0" text-anchor="middle" fill="#333" font-family="Liberation Serif" stroke="#333" stroke-width="0.06" >*</text>
<text x="308.50" y="218.95" font-size="2.4" text-anchor="start" fill="#333" font-family="Liberation Serif" stroke="#333" stroke-width="0.06" textLength="8.20" lengthAdjust="spacingAndGlyphs" >0.01966</text>
<rect x="191.80" y="221.86" width="1.20" height="1.90" fill="#000" />
<rect x="191.80" y="223.76" width="0.90" height="1.90" fill="#555" stroke="#666" stroke-width="0.25" />
<text x="154.20" y="225.60" font-size="3.0" text-anchor="start" fill="#333" font-family="Liberation Serif" stroke="#333" stroke-width="0.03" textLength="31.90" lengthAdjust="spacingAndGlyphs" >norank_f_Ruminococcaceae</text>
<text x="302.50" y="224.86" font-size="3.0" text-anchor="middle" fill="#333" font-family="Liberation Serif" stroke="#333" stroke-width="0.06" >*</text>
<text x="308.50" y="224.76" font-size="2.4" text-anchor="start" fill="#333" font-family="Liberation Serif" stroke="#333" stroke-width="0.06" textLength="8.20" lengthAdjust="spacingAndGlyphs" >0.03232</text>
<rect x="191.80" y="227.67" width="0.90" height="1.90" fill="#000" />
<rect x="191.80" y="229.57" width="0.70" height="1.90" fill="#555" stroke="#666" stroke-width="0.25" />
<text x="171.20" y="231.30" font-size="3.0" text-anchor="start" fill="#333" font-family="Liberation Serif" stroke="#333" stroke-width="0.03" textLength="16.50" lengthAdjust="spacingAndGlyphs" >Bifidobacterium</text>
<text x="302.50" y="230.67" font-size="3.0" text-anchor="middle" fill="#333" font-family="Liberation Serif" stroke="#333" stroke-width="0.06" >**</text>
<text x="308.50" y="230.57" font-size="2.4" text-anchor="start" fill="#333" font-family="Liberation Serif" stroke="#333" stroke-width="0.06" textLength="8.20" lengthAdjust="spacingAndGlyphs" >0.005642</text>
<rect x="191.80" y="233.48" width="0.60" height="1.90" fill="#000" />
<rect x="191.80" y="235.38" width="0.50" height="1.90" fill="#555" stroke="#666" stroke-width="0.25" />
<text x="152.30" y="237.20" font-size="3.0" text-anchor="start" fill="#333" font-family="Liberation Serif" stroke="#333" stroke-width="0.03" textLength="31.00" lengthAdjust="spacingAndGlyphs" >norank_f_Oscillospiraceae</text>
<text x="302.50" y="236.48" font-size="3.0" text-anchor="middle" fill="#333" font-family="Liberation Serif" stroke="#333" stroke-width="0.06" >*</text>
<text x="308.50" y="236.38" font-size="2.4" text-anchor="start" fill="#333" font-family="Liberation Serif" stroke="#333" stroke-width="0.06" textLength="8.20" lengthAdjust="spacingAndGlyphs" >0.03609</text>
<rect x="191.80" y="239.29" width="0.60" height="1.90" fill="#000" />
<rect x="191.80" y="241.19" width="0.50" height="1.90" fill="#555" stroke="#666" stroke-width="0.25" />
<text x="170.60" y="242.80" font-size="3.0" text-anchor="start" fill="#333" font-family="Liberation Serif" stroke="#333" stroke-width="0.03" textLength="17.10" lengthAdjust="spacingAndGlyphs" >Faecalibaculum</text>
<text x="302.50" y="242.29" font-size="3.0" text-anchor="middle" fill="#333" font-family="Liberation Serif" stroke="#333" stroke-width="0.06" >*</text>
<text x="308.50" y="242.19" font-size="2.4" text-anchor="start" fill="#333" font-family="Liberation Serif" stroke="#333" stroke-width="0.06" textLength="8.20" lengthAdjust="spacingAndGlyphs" >0.02516</text>
<line x1="247.70" y1="188.70" x2="283.50" y2="188.70" stroke="#555" stroke-width="0.55" />
<line x1="247.70" y1="187.50" x2="247.70" y2="189.90" stroke="#555" stroke-width="0.5" />
<line x1="283.50" y1="187.50" x2="283.50" y2="189.90" stroke="#555" stroke-width="0.5" />
<circle cx="265.6" cy="188.7" r="1.25" fill="#777" stroke="#555" stroke-width="0.3"/>
<line x1="289.40" y1="194.81" x2="296.30" y2="194.81" stroke="#555" stroke-width="0.4" />
<line x1="289.40" y1="194.01" x2="289.40" y2="195.61" stroke="#555" stroke-width="0.4" />
<line x1="296.30" y1="194.01" x2="296.30" y2="195.61" stroke="#555" stroke-width="0.4" />
<circle cx="293.2" cy="194.81" r="1.45" fill="#000"/>
<circle cx="290.6" cy="200.62" r="1.45" fill="#000"/>
<circle cx="290.6" cy="206.43" r="1.45" fill="#000"/>
<circle cx="290.6" cy="212.24" r="1.45" fill="#000"/>
<circle cx="290.6" cy="218.05" r="1.45" fill="#000"/>
<circle cx="290.6" cy="223.86" r="1.45" fill="#000"/>
<circle cx="288.8" cy="229.67" r="1.45" fill="#888"/>
<circle cx="290.6" cy="235.48" r="1.45" fill="#000"/>
<circle cx="290.6" cy="241.29" r="1.45" fill="#000"/>
<text x="326.30" y="214.80" font-size="3.3" text-anchor="middle" fill="#333" font-family="Liberation Serif" stroke="#333" stroke-width="0.06" textLength="11.00" lengthAdjust="spacingAndGlyphs" transform="rotate(-90 326.30 214.80)" >P-value</text>
<text x="108.50" y="302.60" font-size="5.0" text-anchor="start" fill="#111" font-family="Liberation Serif" stroke="#111" stroke-width="0.12" textLength="21.30" lengthAdjust="spacingAndGlyphs" >LEfSe Bar</text>
<rect x="215.70" y="310.70" width="6.40" height="1.90" fill="#000" />
<text x="222.60" y="312.70" font-size="3.6" text-anchor="start" fill="#222" font-family="Liberation Serif" stroke="#222" stroke-width="0.06" textLength="12.30" lengthAdjust="spacingAndGlyphs" >Control</text>
<rect x="215.90" y="316.60" width="6.00" height="2.20" fill="#ccc" stroke="#333" stroke-width="0.4" />
<text x="222.60" y="318.80" font-size="3.6" text-anchor="start" fill="#222" font-family="Liberation Serif" stroke="#222" stroke-width="0.06" textLength="8.40" lengthAdjust="spacingAndGlyphs" >XOS</text>
<rect x="120.00" y="311.50" width="81.77" height="5.45" fill="#454545" stroke="#7a7a7a" stroke-width="0.25" />
<text x="63.70" y="314.60" font-size="3.4" text-anchor="start" fill="#333" font-family="Liberation Serif" stroke="#333" stroke-width="0.09" textLength="48.00" lengthAdjust="spacingAndGlyphs" >g__unclassified_f__Lachnospiraceae</text>
<rect x="120.00" y="317.57" width="74.65" height="5.45" fill="#454545" stroke="#7a7a7a" stroke-width="0.25" />
<text x="88.30" y="320.40" font-size="3.4" text-anchor="start" fill="#333" font-family="Liberation Serif" stroke="#333" stroke-width="0.09" textLength="26.50" lengthAdjust="spacingAndGlyphs" >g__Acetatifactor</text>
<rect x="120.00" y="323.64" width="74.65" height="5.45" fill="#454545" stroke="#7a7a7a" stroke-width="0.25" />
<text x="71.90" y="326.50" font-size="3.4" text-anchor="start" fill="#333" font-family="Liberation Serif" stroke="#333" stroke-width="0.09" textLength="42.90" lengthAdjust="spacingAndGlyphs" >g__Family_XIII_AD3011_group</text>
<rect x="120.00" y="329.71" width="72.86" height="5.45" fill="#454545" stroke="#7a7a7a" stroke-width="0.25" />
<text x="90.00" y="332.20" font-size="3.4" text-anchor="start" fill="#333" font-family="Liberation Serif" stroke="#333" stroke-width="0.09" textLength="24.60" lengthAdjust="spacingAndGlyphs" >g__Ruminococcus</text>
<rect x="120.00" y="335.78" width="72.07" height="5.45" fill="#454545" stroke="#7a7a7a" stroke-width="0.25" />
<text x="42.80" y="338.20" font-size="3.4" text-anchor="start" fill="#333" font-family="Liberation Serif" stroke="#333" stroke-width="0.09" textLength="67.90" lengthAdjust="spacingAndGlyphs" >g__norank_f__Eubacterium_coprostanoligenes_group</text>
<rect x="120.00" y="341.85" width="70.88" height="5.45" fill="#454545" stroke="#7a7a7a" stroke-width="0.25" />
<text x="70.20" y="344.30" font-size="3.4" text-anchor="start" fill="#333" font-family="Liberation Serif" stroke="#333" stroke-width="0.09" textLength="40.50" lengthAdjust="spacingAndGlyphs" >g__norank_f__norank_o__RF39</text>
<rect x="120.00" y="347.92" width="70.09" height="5.45" fill="#454545" stroke="#7a7a7a" stroke-width="0.25" />
<text x="97.50" y="350.00" font-size="3.4" text-anchor="start" fill="#333" font-family="Liberation Serif" stroke="#333" stroke-width="0.09" textLength="17.50" lengthAdjust="spacingAndGlyphs" >g__Roseburia</text>
<rect x="120.00" y="353.99" width="68.90" height="5.45" fill="#454545" stroke="#7a7a7a" stroke-width="0.25" />
<text x="69.10" y="356.00" font-size="3.4" text-anchor="start" fill="#333" font-family="Liberation Serif" stroke="#333" stroke-width="0.09" textLength="42.10" lengthAdjust="spacingAndGlyphs" >g__norank_f__Ruminococcaceae</text>
<rect x="120.00" y="360.06" width="67.91" height="5.45" fill="#454545" stroke="#7a7a7a" stroke-width="0.25" />
<text x="81.60" y="362.00" font-size="3.4" text-anchor="start" fill="#333" font-family="Liberation Serif" stroke="#333" stroke-width="0.09" textLength="33.20" lengthAdjust="spacingAndGlyphs" >g__norank_f__UCG-010</text>
<rect x="19.81" y="365.30" width="100.19" height="5.60" fill="#d0d0d0" stroke="#8a8a8a" stroke-width="0.4" />
<text x="122.40" y="368.40" font-size="3.5" text-anchor="start" fill="#333" font-family="Liberation Serif" stroke="#333" stroke-width="0.09" textLength="22.50" lengthAdjust="spacingAndGlyphs" >g__Lactobacillus</text>
<rect x="47.14" y="371.05" width="72.86" height="5.60" fill="#d0d0d0" stroke="#8a8a8a" stroke-width="0.4" />
<text x="122.40" y="374.15" font-size="3.5" text-anchor="start" fill="#333" font-family="Liberation Serif" stroke="#333" stroke-width="0.09" textLength="26.10" lengthAdjust="spacingAndGlyphs" >g__Bifidobacterium</text>
<rect x="47.14" y="376.80" width="72.86" height="5.60" fill="#d0d0d0" stroke="#8a8a8a" stroke-width="0.4" />
<text x="122.40" y="379.90" font-size="3.5" text-anchor="start" fill="#333" font-family="Liberation Serif" stroke="#333" stroke-width="0.09" textLength="26.10" lengthAdjust="spacingAndGlyphs" >g__Faecalibaculum</text>
<line x1="10.10" y1="385.20" x2="228.90" y2="385.20" stroke="#777" stroke-width="0.5" />
<line x1="12.08" y1="385.20" x2="12.08" y2="384.60" stroke="#888" stroke-width="0.3" />
<line x1="14.06" y1="385.20" x2="14.06" y2="384.60" stroke="#888" stroke-width="0.3" />
<line x1="16.04" y1="385.20" x2="16.04" y2="384.60" stroke="#888" stroke-width="0.3" />
<line x1="18.02" y1="385.20" x2="18.02" y2="384.60" stroke="#888" stroke-width="0.3" />
<line x1="21.98" y1="385.20" x2="21.98" y2="384.60" stroke="#888" stroke-width="0.3" />
<line x1="23.96" y1="385.20" x2="23.96" y2="384.60" stroke="#888" stroke-width="0.3" />
<line x1="25.94" y1="385.20" x2="25.94" y2="384.60" stroke="#888" stroke-width="0.3" />
<line x1="27.92" y1="385.20" x2="27.92" y2="384.60" stroke="#888" stroke-width="0.3" />
<line x1="31.88" y1="385.20" x2="31.88" y2="384.60" stroke="#888" stroke-width="0.3" />
<line x1="33.86" y1="385.20" x2="33.86" y2="384.60" stroke="#888" stroke-width="0.3" />
<line x1="35.84" y1="385.20" x2="35.84" y2="384.60" stroke="#888" stroke-width="0.3" />
<line x1="37.82" y1="385.20" x2="37.82" y2="384.60" stroke="#888" stroke-width="0.3" />
<line x1="41.78" y1="385.20" x2="41.78" y2="384.60" stroke="#888" stroke-width="0.3" />
<line x1="43.76" y1="385.20" x2="43.76" y2="384.60" stroke="#888" stroke-width="0.3" />
<line x1="45.74" y1="385.20" x2="45.74" y2="384.60" stroke="#888" stroke-width="0.3" />
<line x1="47.72" y1="385.20" x2="47.72" y2="384.60" stroke="#888" stroke-width="0.3" />
<line x1="51.68" y1="385.20" x2="51.68" y2="384.60" stroke="#888" stroke-width="0.3" />
<line x1="53.66" y1="385.20" x2="53.66" y2="384.60" stroke="#888" stroke-width="0.3" />
<line x1="55.64" y1="385.20" x2="55.64" y2="384.60" stroke="#888" stroke-width="0.3" />
<line x1="57.62" y1="385.20" x2="57.62" y2="384.60" stroke="#888" stroke-width="0.3" />
<line x1="61.58" y1="385.20" x2="61.58" y2="384.60" stroke="#888" stroke-width="0.3" />
<line x1="63.56" y1="385.20" x2="63.56" y2="384.60" stroke="#888" stroke-width="0.3" />
<line x1="65.54" y1="385.20" x2="65.54" y2="384.60" stroke="#888" stroke-width="0.3" />
<line x1="67.52" y1="385.20" x2="67.52" y2="384.60" stroke="#888" stroke-width="0.3" />
<line x1="71.48" y1="385.20" x2="71.48" y2="384.60" stroke="#888" stroke-width="0.3" />
<line x1="73.46" y1="385.20" x2="73.46" y2="384.60" stroke="#888" stroke-width="0.3" />
<line x1="75.44" y1="385.20" x2="75.44" y2="384.60" stroke="#888" stroke-width="0.3" />
<line x1="77.42" y1="385.20" x2="77.42" y2="384.60" stroke="#888" stroke-width="0.3" />
<line x1="81.38" y1="385.20" x2="81.38" y2="384.60" stroke="#888" stroke-width="0.3" />
<line x1="83.36" y1="385.20" x2="83.36" y2="384.60" stroke="#888" stroke-width="0.3" />
<line x1="85.34" y1="385.20" x2="85.34" y2="384.60" stroke="#888" stroke-width="0.3" />
<line x1="87.32" y1="385.20" x2="87.32" y2="384.60" stroke="#888" stroke-width="0.3" />
<line x1="91.28" y1="385.20" x2="91.28" y2="384.60" stroke="#888" stroke-width="0.3" />
<line x1="93.26" y1="385.20" x2="93.26" y2="384.60" stroke="#888" stroke-width="0.3" />
<line x1="95.24" y1="385.20" x2="95.24" y2="384.60" stroke="#888" stroke-width="0.3" />
<line x1="97.22" y1="385.20" x2="97.22" y2="384.60" stroke="#888" stroke-width="0.3" />
<line x1="101.18" y1="385.20" x2="101.18" y2="384.60" stroke="#888" stroke-width="0.3" />
<line x1="103.16" y1="385.20" x2="103.16" y2="384.60" stroke="#888" stroke-width="0.3" />
<line x1="105.14" y1="385.20" x2="105.14" y2="384.60" stroke="#888" stroke-width="0.3" />
<line x1="107.12" y1="385.20" x2="107.12" y2="384.60" stroke="#888" stroke-width="0.3" />
<line x1="111.08" y1="385.20" x2="111.08" y2="384.60" stroke="#888" stroke-width="0.3" />
<line x1="113.06" y1="385.20" x2="113.06" y2="384.60" stroke="#888" stroke-width="0.3" />
<line x1="115.04" y1="385.20" x2="115.04" y2="384.60" stroke="#888" stroke-width="0.3" />
<line x1="117.02" y1="385.20" x2="117.02" y2="384.60" stroke="#888" stroke-width="0.3" />
<line x1="120.98" y1="385.20" x2="120.98" y2="384.60" stroke="#888" stroke-width="0.3" />
<line x1="122.96" y1="385.20" x2="122.96" y2="384.60" stroke="#888" stroke-width="0.3" />
<line x1="124.94" y1="385.20" x2="124.94" y2="384.60" stroke="#888" stroke-width="0.3" />
<line x1="126.92" y1="385.20" x2="126.92" y2="384.60" stroke="#888" stroke-width="0.3" />
<line x1="130.88" y1="385.20" x2="130.88" y2="384.60" stroke="#888" stroke-width="0.3" />
<line x1="132.86" y1="385.20" x2="132.86" y2="384.60" stroke="#888" stroke-width="0.3" />
<line x1="134.84" y1="385.20" x2="134.84" y2="384.60" stroke="#888" stroke-width="0.3" />
<line x1="136.82" y1="385.20" x2="136.82" y2="384.60" stroke="#888" stroke-width="0.3" />
<line x1="140.78" y1="385.20" x2="140.78" y2="384.60" stroke="#888" stroke-width="0.3" />
<line x1="142.76" y1="385.20" x2="142.76" y2="384.60" stroke="#888" stroke-width="0.3" />
<line x1="144.74" y1="385.20" x2="144.74" y2="384.60" stroke="#888" stroke-width="0.3" />
<line x1="146.72" y1="385.20" x2="146.72" y2="384.60" stroke="#888" stroke-width="0.3" />
<line x1="150.68" y1="385.20" x2="150.68" y2="384.60" stroke="#888" stroke-width="0.3" />
<line x1="152.66" y1="385.20" x2="152.66" y2="384.60" stroke="#888" stroke-width="0.3" />
<line x1="154.64" y1="385.20" x2="154.64" y2="384.60" stroke="#888" stroke-width="0.3" />
<line x1="156.62" y1="385.20" x2="156.62" y2="384.60" stroke="#888" stroke-width="0.3" />
<line x1="160.58" y1="385.20" x2="160.58" y2="384.60" stroke="#888" stroke-width="0.3" />
<line x1="162.56" y1="385.20" x2="162.56" y2="384.60" stroke="#888" stroke-width="0.3" />
<line x1="164.54" y1="385.20" x2="164.54" y2="384.60" stroke="#888" stroke-width="0.3" />
<line x1="166.52" y1="385.20" x2="166.52" y2="384.60" stroke="#888" stroke-width="0.3" />
<line x1="170.48" y1="385.20" x2="170.48" y2="384.60" stroke="#888" stroke-width="0.3" />
<line x1="172.46" y1="385.20" x2="172.46" y2="384.60" stroke="#888" stroke-width="0.3" />
<line x1="174.44" y1="385.20" x2="174.44" y2="384.60" stroke="#888" stroke-width="0.3" />
<line x1="176.42" y1="385.20" x2="176.42" y2="384.60" stroke="#888" stroke-width="0.3" />
<line x1="180.38" y1="385.20" x2="180.38" y2="384.60" stroke="#888" stroke-width="0.3" />
<line x1="182.36" y1="385.20" x2="182.36" y2="384.60" stroke="#888" stroke-width="0.3" />
<line x1="184.34" y1="385.20" x2="184.34" y2="384.60" stroke="#888" stroke-width="0.3" />
<line x1="186.32" y1="385.20" x2="186.32" y2="384.60" stroke="#888" stroke-width="0.3" />
<line x1="190.28" y1="385.20" x2="190.28" y2="384.60" stroke="#888" stroke-width="0.3" />
<line x1="192.26" y1="385.20" x2="192.26" y2="384.60" stroke="#888" stroke-width="0.3" />
<line x1="194.24" y1="385.20" x2="194.24" y2="384.60" stroke="#888" stroke-width="0.3" />
<line x1="196.22" y1="385.20" x2="196.22" y2="384.60" stroke="#888" stroke-width="0.3" />
<line x1="200.18" y1="385.20" x2="200.18" y2="384.60" stroke="#888" stroke-width="0.3" />
<line x1="202.16" y1="385.20" x2="202.16" y2="384.60" stroke="#888" stroke-width="0.3" />
<line x1="204.14" y1="385.20" x2="204.14" y2="384.60" stroke="#888" stroke-width="0.3" />
<line x1="206.12" y1="385.20" x2="206.12" y2="384.60" stroke="#888" stroke-width="0.3" />
<line x1="210.08" y1="385.20" x2="210.08" y2="384.60" stroke="#888" stroke-width="0.3" />
<line x1="212.06" y1="385.20" x2="212.06" y2="384.60" stroke="#888" stroke-width="0.3" />
<line x1="214.04" y1="385.20" x2="214.04" y2="384.60" stroke="#888" stroke-width="0.3" />
<line x1="216.02" y1="385.20" x2="216.02" y2="384.60" stroke="#888" stroke-width="0.3" />
<line x1="219.98" y1="385.20" x2="219.98" y2="384.60" stroke="#888" stroke-width="0.3" />
<line x1="221.96" y1="385.20" x2="221.96" y2="384.60" stroke="#888" stroke-width="0.3" />
<line x1="223.94" y1="385.20" x2="223.94" y2="384.60" stroke="#888" stroke-width="0.3" />
<line x1="225.92" y1="385.20" x2="225.92" y2="384.60" stroke="#888" stroke-width="0.3" />
<line x1="10.10" y1="385.20" x2="10.10" y2="386.80" stroke="#666" stroke-width="0.45" />
<text x="10.10" y="392.10" font-size="3.0" text-anchor="middle" fill="#333" font-family="Liberation Serif" stroke="#333" stroke-width="0.1" >5.5</text>
<line x1="20.00" y1="385.20" x2="20.00" y2="386.80" stroke="#666" stroke-width="0.45" />
<text x="20.00" y="392.10" font-size="3.0" text-anchor="middle" fill="#333" font-family="Liberation Serif" stroke="#333" stroke-width="0.1" >5.0</text>
<line x1="29.90" y1="385.20" x2="29.90" y2="386.80" stroke="#666" stroke-width="0.45" />
<text x="29.90" y="392.10" font-size="3.0" text-anchor="middle" fill="#333" font-family="Liberation Serif" stroke="#333" stroke-width="0.1" >4.5</text>
<line x1="39.80" y1="385.20" x2="39.80" y2="386.80" stroke="#666" stroke-width="0.45" />
<text x="39.80" y="392.10" font-size="3.0" text-anchor="middle" fill="#333" font-family="Liberation Serif" stroke="#333" stroke-width="0.1" >4.0</text>
<line x1="49.70" y1="385.20" x2="49.70" y2="386.80" stroke="#666" stroke-width="0.45" />
<text x="49.70" y="392.10" font-size="3.0" text-anchor="middle" fill="#333" font-family="Liberation Serif" stroke="#333" stroke-width="0.1" >3.5</text>
<line x1="59.60" y1="385.20" x2="59.60" y2="386.80" stroke="#666" stroke-width="0.45" />
<text x="59.60" y="392.10" font-size="3.0" text-anchor="middle" fill="#333" font-family="Liberation Serif" stroke="#333" stroke-width="0.1" >3.0</text>
<line x1="69.50" y1="385.20" x2="69.50" y2="386.80" stroke="#666" stroke-width="0.45" />
<text x="69.50" y="392.10" font-size="3.0" text-anchor="middle" fill="#333" font-family="Liberation Serif" stroke="#333" stroke-width="0.1" >2.5</text>
<line x1="79.40" y1="385.20" x2="79.40" y2="386.80" stroke="#666" stroke-width="0.45" />
<text x="79.40" y="392.10" font-size="3.0" text-anchor="middle" fill="#333" font-family="Liberation Serif" stroke="#333" stroke-width="0.1" >2.0</text>
<line x1="89.30" y1="385.20" x2="89.30" y2="386.80" stroke="#666" stroke-width="0.45" />
<text x="89.30" y="392.10" font-size="3.0" text-anchor="middle" fill="#333" font-family="Liberation Serif" stroke="#333" stroke-width="0.1" >1.5</text>
<line x1="99.20" y1="385.20" x2="99.20" y2="386.80" stroke="#666" stroke-width="0.45" />
<text x="99.20" y="392.10" font-size="3.0" text-anchor="middle" fill="#333" font-family="Liberation Serif" stroke="#333" stroke-width="0.1" >1.0</text>
<line x1="109.10" y1="385.20" x2="109.10" y2="386.80" stroke="#666" stroke-width="0.45" />
<text x="109.10" y="392.10" font-size="3.0" text-anchor="middle" fill="#333" font-family="Liberation Serif" stroke="#333" stroke-width="0.1" >0.5</text>
<line x1="119.00" y1="385.20" x2="119.00" y2="386.80" stroke="#666" stroke-width="0.45" />
<text x="119.00" y="392.10" font-size="3.0" text-anchor="middle" fill="#333" font-family="Liberation Serif" stroke="#333" stroke-width="0.1" >0.0</text>
<line x1="128.90" y1="385.20" x2="128.90" y2="386.80" stroke="#666" stroke-width="0.45" />
<text x="128.90" y="392.10" font-size="3.0" text-anchor="middle" fill="#333" font-family="Liberation Serif" stroke="#333" stroke-width="0.1" >0.5</text>
<line x1="138.80" y1="385.20" x2="138.80" y2="386.80" stroke="#666" stroke-width="0.45" />
<text x="138.80" y="392.10" font-size="3.0" text-anchor="middle" fill="#333" font-family="Liberation Serif" stroke="#333" stroke-width="0.1" >1.0</text>
<line x1="148.70" y1="385.20" x2="148.70" y2="386.80" stroke="#666" stroke-width="0.45" />
<text x="148.70" y="392.10" font-size="3.0" text-anchor="middle" fill="#333" font-family="Liberation Serif" stroke="#333" stroke-width="0.1" >1.5</text>
<line x1="158.60" y1="385.20" x2="158.60" y2="386.80" stroke="#666" stroke-width="0.45" />
<text x="158.60" y="392.10" font-size="3.0" text-anchor="middle" fill="#333" font-family="Liberation Serif" stroke="#333" stroke-width="0.1" >2.0</text>
<line x1="168.50" y1="385.20" x2="168.50" y2="386.80" stroke="#666" stroke-width="0.45" />
<text x="168.50" y="392.10" font-size="3.0" text-anchor="middle" fill="#333" font-family="Liberation Serif" stroke="#333" stroke-width="0.1" >2.5</text>
<line x1="178.40" y1="385.20" x2="178.40" y2="386.80" stroke="#666" stroke-width="0.45" />
<text x="178.40" y="392.10" font-size="3.0" text-anchor="middle" fill="#333" font-family="Liberation Serif" stroke="#333" stroke-width="0.1" >3.0</text>
<line x1="188.30" y1="385.20" x2="188.30" y2="386.80" stroke="#666" stroke-width="0.45" />
<text x="188.30" y="392.10" font-size="3.0" text-anchor="middle" fill="#333" font-family="Liberation Serif" stroke="#333" stroke-width="0.1" >3.5</text>
<line x1="198.20" y1="385.20" x2="198.20" y2="386.80" stroke="#666" stroke-width="0.45" />
<text x="198.20" y="392.10" font-size="3.0" text-anchor="middle" fill="#333" font-family="Liberation Serif" stroke="#333" stroke-width="0.1" >4.0</text>
<line x1="208.10" y1="385.20" x2="208.10" y2="386.80" stroke="#666" stroke-width="0.45" />
<text x="208.10" y="392.10" font-size="3.0" text-anchor="middle" fill="#333" font-family="Liberation Serif" stroke="#333" stroke-width="0.1" >4.5</text>
<line x1="218.00" y1="385.20" x2="218.00" y2="386.80" stroke="#666" stroke-width="0.45" />
<text x="218.00" y="392.10" font-size="3.0" text-anchor="middle" fill="#333" font-family="Liberation Serif" stroke="#333" stroke-width="0.1" >5.0</text>
<line x1="227.90" y1="385.20" x2="227.90" y2="386.80" stroke="#666" stroke-width="0.45" />
<text x="227.90" y="392.10" font-size="3.0" text-anchor="middle" fill="#333" font-family="Liberation Serif" stroke="#333" stroke-width="0.1" >5.5</text>
<text x="159.60" y="397.80" font-size="3.6" text-anchor="start" fill="#222" font-family="Liberation Serif" stroke="#222" stroke-width="0.1" textLength="27.70" lengthAdjust="spacingAndGlyphs" >LDA SCORE(log10)</text>
</svg>
</body></html>
